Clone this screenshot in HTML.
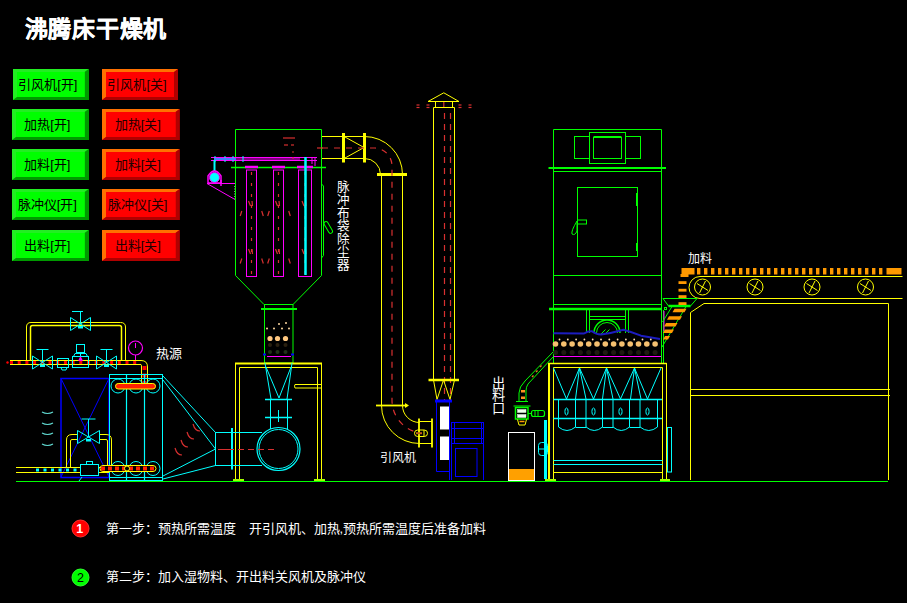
<!DOCTYPE html>
<html lang="zh-CN">
<head>
<meta charset="utf-8">
<style>
html,body{margin:0;padding:0;background:#000;}
body{width:907px;height:603px;overflow:hidden;position:relative;}
svg{position:absolute;left:0;top:0;font-family:"Liberation Sans",sans-serif;}
</style>
</head>
<body>
<svg width="907" height="603" viewBox="0 0 907 603">
<rect x="0" y="0" width="907" height="603" fill="#000"/>
<text x="24.5" y="37.3" fill="#ffffff" font-size="23" font-weight="bold" letter-spacing="0.8" stroke="#fff" stroke-width="0.25">沸腾床干燥机</text>
<rect x="13" y="69" width="75.6" height="31" fill="#00ff00" />
<polygon points="13,69 88.6,69 84.6,72 17,72 17,97 13,100" fill="#22ee22"/>
<polygon points="88.6,69 88.6,100 13,100 17,97 84.6,97 84.6,72" fill="#009a00"/>
<rect x="17" y="72" width="67.6" height="25" fill="#00ff00" />
<text x="47.8" y="89.3" fill="#000" font-size="13" text-anchor="middle">引风机[开]</text>
<rect x="102" y="69" width="76" height="31" fill="#ff0000" />
<polygon points="102,69 178,69 174,72 106,72 106,97 102,100" fill="#ff7000"/>
<polygon points="178,69 178,100 102,100 106,97 174,97 174,72" fill="#b00000"/>
<rect x="106" y="72" width="68" height="25" fill="#ff0000" />
<text x="137.0" y="89.3" fill="#200000" font-size="13" text-anchor="middle">引风机[关]</text>
<rect x="12" y="109" width="76.6" height="31" fill="#00ff00" />
<polygon points="12,109 88.6,109 84.6,112 16,112 16,137 12,140" fill="#22ee22"/>
<polygon points="88.6,109 88.6,140 12,140 16,137 84.6,137 84.6,112" fill="#009a00"/>
<rect x="16" y="112" width="68.6" height="25" fill="#00ff00" />
<text x="47.3" y="129.3" fill="#000" font-size="13" text-anchor="middle">加热[开]</text>
<rect x="102" y="109" width="77.5" height="31" fill="#ff0000" />
<polygon points="102,109 179.5,109 175.5,112 106,112 106,137 102,140" fill="#ff7000"/>
<polygon points="179.5,109 179.5,140 102,140 106,137 175.5,137 175.5,112" fill="#b00000"/>
<rect x="106" y="112" width="69.5" height="25" fill="#ff0000" />
<text x="137.75" y="129.3" fill="#200000" font-size="13" text-anchor="middle">加热[关]</text>
<rect x="12" y="149" width="76.6" height="31" fill="#00ff00" />
<polygon points="12,149 88.6,149 84.6,152 16,152 16,177 12,180" fill="#22ee22"/>
<polygon points="88.6,149 88.6,180 12,180 16,177 84.6,177 84.6,152" fill="#009a00"/>
<rect x="16" y="152" width="68.6" height="25" fill="#00ff00" />
<text x="47.3" y="169.3" fill="#000" font-size="13" text-anchor="middle">加料[开]</text>
<rect x="102" y="149" width="77.5" height="31" fill="#ff0000" />
<polygon points="102,149 179.5,149 175.5,152 106,152 106,177 102,180" fill="#ff7000"/>
<polygon points="179.5,149 179.5,180 102,180 106,177 175.5,177 175.5,152" fill="#b00000"/>
<rect x="106" y="152" width="69.5" height="25" fill="#ff0000" />
<text x="137.75" y="169.3" fill="#200000" font-size="13" text-anchor="middle">加料[关]</text>
<rect x="12" y="189" width="76.6" height="31" fill="#00ff00" />
<polygon points="12,189 88.6,189 84.6,192 16,192 16,217 12,220" fill="#22ee22"/>
<polygon points="88.6,189 88.6,220 12,220 16,217 84.6,217 84.6,192" fill="#009a00"/>
<rect x="16" y="192" width="68.6" height="25" fill="#00ff00" />
<text x="47.3" y="209.3" fill="#000" font-size="13" text-anchor="middle">脉冲仪[开]</text>
<rect x="102" y="189" width="77.5" height="31" fill="#ff0000" />
<polygon points="102,189 179.5,189 175.5,192 106,192 106,217 102,220" fill="#ff7000"/>
<polygon points="179.5,189 179.5,220 102,220 106,217 175.5,217 175.5,192" fill="#b00000"/>
<rect x="106" y="192" width="69.5" height="25" fill="#ff0000" />
<text x="137.75" y="209.3" fill="#200000" font-size="13" text-anchor="middle">脉冲仪[关]</text>
<rect x="12" y="230" width="76.6" height="31" fill="#00ff00" />
<polygon points="12,230 88.6,230 84.6,233 16,233 16,258 12,261" fill="#22ee22"/>
<polygon points="88.6,230 88.6,261 12,261 16,258 84.6,258 84.6,233" fill="#009a00"/>
<rect x="16" y="233" width="68.6" height="25" fill="#00ff00" />
<text x="47.3" y="250.3" fill="#000" font-size="13" text-anchor="middle">出料[开]</text>
<rect x="102" y="230" width="77.5" height="31" fill="#ff0000" />
<polygon points="102,230 179.5,230 175.5,233 106,233 106,258 102,261" fill="#ff7000"/>
<polygon points="179.5,230 179.5,261 102,261 106,258 175.5,258 175.5,233" fill="#b00000"/>
<rect x="106" y="233" width="69.5" height="25" fill="#ff0000" />
<text x="137.75" y="250.3" fill="#200000" font-size="13" text-anchor="middle">出料[关]</text>
<line x1="16" y1="481.5" x2="888" y2="481.5" stroke="#00ff00" stroke-width="1" />
<circle cx="80.5" cy="528.5" r="8.5" stroke="#ff3030" stroke-width="1" fill="#ff0000" />
<text x="79.8" y="532.8" fill="#ffffff" font-size="12.5" font-weight="bold" text-anchor="middle">1</text>
<text x="105.5" y="533" fill="#ffffff" font-size="13" >第一步：预热所需温度　开引风机、加热,预热所需温度后准备加料</text>
<circle cx="80.5" cy="577.5" r="8.5" stroke="#30ff30" stroke-width="1" fill="#00ff00" />
<text x="80.5" y="581.8" fill="#000" font-size="12.5" text-anchor="middle">2</text>
<text x="105.5" y="581.3" fill="#ffffff" font-size="13" >第二步：加入湿物料、开出料关风机及脉冲仪</text>
<g id="leftpipe">
<path d="M26.5,360 L26.5,327 Q26.5,322.5 31,322.5 L120.5,322.5 Q125.5,322.5 125.5,327 L125.5,360" stroke="#ffff00" stroke-width="1" fill="none" />
<path d="M30.5,360 L30.5,327.5 Q30.5,325.5 32.5,325.5 L119.5,325.5 Q121.5,325.5 121.5,327.5 L121.5,360" stroke="#ffff00" stroke-width="1.5" fill="none" />
<line x1="10" y1="360.5" x2="141" y2="360.5" stroke="#ffff00" stroke-width="1" />
<line x1="10" y1="364.5" x2="141" y2="364.5" stroke="#ffff00" stroke-width="1" />
<line x1="10" y1="362.5" x2="141" y2="362.5" stroke="#ff0000" stroke-width="3" stroke-dasharray="3 4.7"/>
<circle cx="7.5" cy="362.5" r="1.2" stroke="none" stroke-width="0" fill="#ff0000" />
<path d="M141,360.5 Q147.5,360.5 147.5,367 L147.5,383" stroke="#ffff00" stroke-width="1" fill="none" />
<path d="M141,364.5 Q141.5,364.5 141.5,367 L141.5,383" stroke="#ffff00" stroke-width="1" fill="none" />
<line x1="144.5" y1="366" x2="144.5" y2="384" stroke="#ff0000" stroke-width="4" stroke-dasharray="4 3.5"/>
<path d="M70.5,317.5 L90.5,330.5 L90.5,317.5 L70.5,330.5 Z" stroke="#00ffff" stroke-width="1" fill="none"/>
<line x1="80.5" y1="324" x2="80.5" y2="311.5" stroke="#00ffff" stroke-width="1" />
<line x1="80.5" y1="311.5" x2="80.5" y2="311.5" stroke="#00ffff" stroke-width="1" />
<rect x="78.0" y="326" width="5" height="2.5" fill="#00ffff"/>
<line x1="72" y1="311.5" x2="83" y2="311.5" stroke="#00ffff" stroke-width="1" />
<path d="M32.5,356.0 L52.5,369.0 L52.5,356.0 L32.5,369.0 Z" stroke="#00ffff" stroke-width="1" fill="none"/>
<line x1="42.5" y1="362.5" x2="42.5" y2="349.5" stroke="#00ffff" stroke-width="1" />
<line x1="36.5" y1="349.5" x2="48.5" y2="349.5" stroke="#00ffff" stroke-width="1" />
<rect x="40.0" y="364.5" width="5" height="2.5" fill="#00ffff"/>
<path d="M96.5,356.0 L116.5,369.0 L116.5,356.0 L96.5,369.0 Z" stroke="#00ffff" stroke-width="1" fill="none"/>
<line x1="106.5" y1="362.5" x2="106.5" y2="349.5" stroke="#00ffff" stroke-width="1" />
<line x1="100.5" y1="349.5" x2="112.5" y2="349.5" stroke="#00ffff" stroke-width="1" />
<rect x="104.0" y="364.5" width="5" height="2.5" fill="#00ffff"/>
<rect x="57.5" y="358.5" width="11" height="9" stroke="#00ffff" stroke-width="1" fill="none" />
<path d="M61,367.5 L62,370 L66,370 L67,367.5" stroke="#00ffff" stroke-width="1" fill="none" />
<rect x="72.5" y="356.5" width="16" height="11" stroke="#00ffff" stroke-width="1" fill="none" />
<path d="M73.5,356.5 L75,353.5 L86,353.5 L87.5,356.5" stroke="#00ffff" stroke-width="1" fill="none" />
<rect x="76.5" y="344.5" width="8" height="8" stroke="#00ffff" stroke-width="1" fill="#000" />
<line x1="80.5" y1="352.5" x2="80.5" y2="356.5" stroke="#00ffff" stroke-width="1" />
<polygon points="78,361 83,361 80.5,356" fill="#ff00ff"/>
<circle cx="135.5" cy="348" r="7" stroke="#ff00ff" stroke-width="1.2" fill="none" />
<line x1="135.5" y1="348" x2="135.5" y2="343" stroke="#ff00ff" stroke-width="1" />
<line x1="135.5" y1="355" x2="135.5" y2="360" stroke="#ff00ff" stroke-width="1" />
<text x="156" y="358" fill="#ffffff" font-size="13" >热源</text>
<rect x="61" y="378.5" width="48" height="99" stroke="#0000ff" stroke-width="1.5" fill="none" />
<line x1="61" y1="378.5" x2="109" y2="477" stroke="#0000ff" stroke-width="1" />
<line x1="109" y1="378.5" x2="61" y2="477" stroke="#0000ff" stroke-width="1" />
<path d="M42,412 Q47.5,415 53,412" stroke="#60d8d0" stroke-width="1.2" fill="none" />
<path d="M42,423 Q47.5,426 53,423" stroke="#60d8d0" stroke-width="1.2" fill="none" />
<path d="M42,433 Q47.5,436 53,433" stroke="#60d8d0" stroke-width="1.2" fill="none" />
<path d="M42,444 Q47.5,447 53,444" stroke="#60d8d0" stroke-width="1.2" fill="none" />
<line x1="16" y1="467.5" x2="110" y2="467.5" stroke="#ffff00" stroke-width="1" />
<line x1="16" y1="472.5" x2="110" y2="472.5" stroke="#ffff00" stroke-width="1" />
<line x1="36" y1="470" x2="80" y2="470" stroke="#00ffff" stroke-width="3" stroke-dasharray="3 4.5"/>
<path d="M66.5,467 L66.5,440 Q66.5,434.5 72,434.5 L78,434.5" stroke="#ffff00" stroke-width="1" fill="none" />
<path d="M70.5,467 L70.5,441 Q70.5,439.5 72,439.5 L78,439.5" stroke="#ffff00" stroke-width="1" fill="none" />
<path d="M111.5,467 L111.5,440 Q111.5,434.5 106,434.5 L99,434.5" stroke="#ffff00" stroke-width="1" fill="none" />
<path d="M107.5,467 L107.5,441 Q107.5,439.5 106,439.5 L99,439.5" stroke="#ffff00" stroke-width="1" fill="none" />
<path d="M77.5,430.5 L99.5,443.5 L99.5,430.5 L77.5,443.5 Z" stroke="#00ffff" stroke-width="1" fill="none"/>
<line x1="88.5" y1="437" x2="88.5" y2="419" stroke="#00ffff" stroke-width="1" />
<line x1="81.5" y1="419" x2="95.5" y2="419" stroke="#00ffff" stroke-width="1" />
<rect x="86.0" y="439" width="5" height="2.5" fill="#00ffff"/>
<rect x="80.5" y="464.5" width="18" height="11" stroke="#00ffff" stroke-width="1" fill="#000" />
<rect x="86.5" y="461.5" width="6" height="3" stroke="#00ffff" stroke-width="1" fill="#000" />
<path d="M82,477 L79,481" stroke="#00ffff" stroke-width="1" fill="none" />
<rect x="109.5" y="374.5" width="53" height="106" stroke="#00ffff" stroke-width="1" fill="none" />
<line x1="109.5" y1="378.5" x2="162.5" y2="378.5" stroke="#00ffff" stroke-width="1" />
<line x1="109.5" y1="477.5" x2="162.5" y2="477.5" stroke="#00ffff" stroke-width="1" />
<line x1="126.5" y1="374.5" x2="126.5" y2="480" stroke="#00ffff" stroke-width="1.2" />
<line x1="144.5" y1="374.5" x2="144.5" y2="480" stroke="#00ffff" stroke-width="1.2" />
<circle cx="118" cy="386" r="7" stroke="#00ffff" stroke-width="1" fill="none" />
<circle cx="118" cy="468.5" r="7" stroke="#00ffff" stroke-width="1" fill="none" />
<circle cx="136" cy="386" r="7" stroke="#00ffff" stroke-width="1" fill="none" />
<circle cx="136" cy="468.5" r="7" stroke="#00ffff" stroke-width="1" fill="none" />
<circle cx="153" cy="386" r="7" stroke="#00ffff" stroke-width="1" fill="none" />
<circle cx="153" cy="468.5" r="7" stroke="#00ffff" stroke-width="1" fill="none" />
<rect x="115.5" y="383.5" width="40" height="5.5" rx="2.7" fill="#ff2000" stroke="#ffff00" stroke-width="1"/>
<rect x="100" y="465.5" width="56" height="6" rx="3" fill="#000" stroke="#ffff00" stroke-width="1"/>
<line x1="101" y1="468.5" x2="155" y2="468.5" stroke="#ff2000" stroke-width="4" stroke-dasharray="4 3"/>
<circle cx="127" cy="468.5" r="2.5" stroke="#ffff00" stroke-width="1" fill="#000" />
<line x1="163" y1="376" x2="215.5" y2="432.5" stroke="#00ffff" stroke-width="1" />
<line x1="163" y1="380" x2="215.5" y2="449" stroke="#00ffff" stroke-width="1" />
<line x1="163" y1="476" x2="215.5" y2="449" stroke="#00ffff" stroke-width="1" />
<line x1="163" y1="479" x2="215.5" y2="465.5" stroke="#00ffff" stroke-width="1" />
<rect x="215.5" y="432.5" width="16" height="33" stroke="#00ffff" stroke-width="1" fill="none" />
<line x1="232" y1="428" x2="232" y2="469.5" stroke="#00ffff" stroke-width="2" />
<line x1="222" y1="449.5" x2="228" y2="449.5" stroke="#d83030" stroke-width="1" />
<path d="M175,448 Q177,455 182,455" stroke="#d83030" stroke-width="1.2" fill="none" />
<path d="M181,440 Q183,447 188,447" stroke="#d83030" stroke-width="1.2" fill="none" />
<path d="M187,432 Q189,439 194,439" stroke="#d83030" stroke-width="1.2" fill="none" />
<path d="M193,424 Q195,431 200,431" stroke="#d83030" stroke-width="1.2" fill="none" />
</g>
<g id="baghouse">
<path d="M235.5,129.5 L321.5,129.5 L321.5,275.5 L293,304.5 L264,304.5 L235.5,275.5 Z" stroke="#00ff00" stroke-width="1" fill="none" />
<line x1="231" y1="167.5" x2="326" y2="167.5" stroke="#00ff00" stroke-width="1.5" />
<line x1="211" y1="157.5" x2="317" y2="157.5" stroke="#ff00ff" stroke-width="1" />
<line x1="211" y1="160.5" x2="317" y2="160.5" stroke="#ff00ff" stroke-width="1" />
<line x1="228" y1="159" x2="300" y2="159" stroke="#ff00ff" stroke-width="1" />
<line x1="215" y1="156" x2="215" y2="162" stroke="#00ffff" stroke-width="1" />
<line x1="225" y1="156" x2="225" y2="162" stroke="#00ffff" stroke-width="1" />
<line x1="233" y1="156" x2="233" y2="162" stroke="#00ffff" stroke-width="1" />
<line x1="243" y1="156" x2="243" y2="162" stroke="#00ffff" stroke-width="1" />
<line x1="214" y1="159" x2="236" y2="159" stroke="#4080ff" stroke-width="2" />
<line x1="312" y1="157" x2="312" y2="164" stroke="#ff00ff" stroke-width="1" />
<line x1="315" y1="157" x2="315" y2="166" stroke="#ff00ff" stroke-width="1" />
<rect x="246.5" y="170" width="10.0" height="106.5" stroke="#ff00ff" stroke-width="1" fill="none" />
<line x1="245.0" y1="167" x2="258.0" y2="167" stroke="#ff00ff" stroke-width="2.5" />
<line x1="251.5" y1="172" x2="251.5" y2="276" stroke="#d83030" stroke-width="1.2" stroke-dasharray="3 8"/>
<line x1="250.5" y1="206" x2="248.5" y2="201" stroke="#d83030" stroke-width="1.2" />
<line x1="252.5" y1="206" x2="252.0" y2="201" stroke="#d83030" stroke-width="1.2" />
<line x1="250.5" y1="254" x2="248.5" y2="249" stroke="#d83030" stroke-width="1.2" />
<line x1="252.5" y1="254" x2="252.0" y2="249" stroke="#d83030" stroke-width="1.2" />
<rect x="273.5" y="170" width="10.0" height="106.5" stroke="#ff00ff" stroke-width="1" fill="none" />
<line x1="272.0" y1="167" x2="285.0" y2="167" stroke="#ff00ff" stroke-width="2.5" />
<line x1="278.5" y1="172" x2="278.5" y2="276" stroke="#d83030" stroke-width="1.2" stroke-dasharray="3 8"/>
<line x1="277.5" y1="206" x2="275.5" y2="201" stroke="#d83030" stroke-width="1.2" />
<line x1="279.5" y1="206" x2="279.0" y2="201" stroke="#d83030" stroke-width="1.2" />
<line x1="277.5" y1="254" x2="275.5" y2="249" stroke="#d83030" stroke-width="1.2" />
<line x1="279.5" y1="254" x2="279.0" y2="249" stroke="#d83030" stroke-width="1.2" />
<rect x="298.5" y="170" width="13.0" height="106.5" stroke="#ff00ff" stroke-width="1" fill="none" />
<line x1="297.0" y1="167" x2="313.0" y2="167" stroke="#ff00ff" stroke-width="2.5" />
<line x1="305.0" y1="172" x2="305.0" y2="276" stroke="#d83030" stroke-width="1.2" stroke-dasharray="3 8"/>
<line x1="304.0" y1="206" x2="302.0" y2="201" stroke="#d83030" stroke-width="1.2" />
<line x1="306.0" y1="206" x2="305.5" y2="201" stroke="#d83030" stroke-width="1.2" />
<line x1="304.0" y1="254" x2="302.0" y2="249" stroke="#d83030" stroke-width="1.2" />
<line x1="306.0" y1="254" x2="305.5" y2="249" stroke="#d83030" stroke-width="1.2" />
<line x1="305.5" y1="157" x2="305.5" y2="275" stroke="#00ffff" stroke-width="2.5" />
<line x1="214.5" y1="160" x2="214.5" y2="171" stroke="#00ffff" stroke-width="2" />
<path d="M208,176 Q214.5,166 221,176 L221,183 L208,183 Z" stroke="#ff00ff" stroke-width="1.5" fill="#000"/>
<circle cx="214.5" cy="177.5" r="5" stroke="#ff00ff" stroke-width="1" fill="#00ffff" />
<line x1="207" y1="183.5" x2="235" y2="183.5" stroke="#ff00ff" stroke-width="1" />
<line x1="207" y1="183.5" x2="235" y2="199.5" stroke="#ff00ff" stroke-width="1" />
<line x1="221" y1="180" x2="221" y2="186" stroke="#ff00ff" stroke-width="1.5" />
<line x1="234.5" y1="186" x2="234.5" y2="199" stroke="#808080" stroke-width="1" stroke-dasharray="1 1.5"/>
<line x1="283" y1="138" x2="295" y2="138" stroke="#d83030" stroke-width="1.2" />
<line x1="284" y1="145" x2="288" y2="145" stroke="#d83030" stroke-width="1.2" />
<line x1="291" y1="145" x2="294" y2="145" stroke="#d83030" stroke-width="1.2" />
<line x1="292" y1="152" x2="294" y2="152" stroke="#d83030" stroke-width="1.2" />
<line x1="292" y1="158" x2="294" y2="158" stroke="#d83030" stroke-width="1.2" />
<line x1="317" y1="148" x2="323" y2="148" stroke="#d83030" stroke-width="1.2" />
<line x1="241.8" y1="211" x2="240.2" y2="216" stroke="#d83030" stroke-width="1.2" />
<line x1="261.7" y1="211" x2="263.3" y2="216" stroke="#d83030" stroke-width="1.2" />
<line x1="269.3" y1="211" x2="267.7" y2="216" stroke="#d83030" stroke-width="1.2" />
<line x1="288.7" y1="211" x2="290.3" y2="216" stroke="#d83030" stroke-width="1.2" />
<line x1="241.8" y1="258.5" x2="240.2" y2="263.5" stroke="#d83030" stroke-width="1.2" />
<line x1="261.7" y1="258.5" x2="263.3" y2="263.5" stroke="#d83030" stroke-width="1.2" />
<line x1="269.3" y1="258.5" x2="267.7" y2="263.5" stroke="#d83030" stroke-width="1.2" />
<line x1="288.7" y1="258.5" x2="290.3" y2="263.5" stroke="#d83030" stroke-width="1.2" />
<path d="M321.5,184 L323.5,186 L323.5,255.5 L321.5,258" stroke="#00ff00" stroke-width="1" fill="none" />
<rect x="326" y="221" width="4" height="13" rx="2" transform="rotate(-30 328 227)" stroke="#00ff00" stroke-width="1" fill="none"/>
<rect x="264.5" y="304.5" width="28.5" height="58.5" stroke="#00ff00" stroke-width="1" fill="none" />
<line x1="261" y1="309" x2="297" y2="309" stroke="#00ff00" stroke-width="2" />
<circle cx="279" cy="324" r="1" stroke="none" stroke-width="0" fill="#ffd9a0" />
<circle cx="286" cy="323" r="1" stroke="none" stroke-width="0" fill="#ffd9a0" />
<circle cx="267" cy="328.5" r="1" stroke="none" stroke-width="0" fill="#ffd9a0" />
<circle cx="274" cy="328.5" r="1" stroke="none" stroke-width="0" fill="#ffd9a0" />
<circle cx="282" cy="328.5" r="1" stroke="none" stroke-width="0" fill="#ffd9a0" />
<circle cx="289" cy="328.5" r="1" stroke="none" stroke-width="0" fill="#ffd9a0" />
<circle cx="270" cy="338.5" r="2.6" fill="#ffc880"/>
<circle cx="277.5" cy="338.5" r="2.6" fill="#ffc880"/>
<circle cx="285.5" cy="338.5" r="2.6" fill="#ffc880"/>
<circle cx="270" cy="345" r="2" fill="#2a2010"/>
<circle cx="270" cy="352" r="2" fill="#203018"/>
<circle cx="277.5" cy="345" r="2" fill="#2a2010"/>
<circle cx="277.5" cy="352" r="2" fill="#203018"/>
<circle cx="285.5" cy="345" r="2" fill="#2a2010"/>
<circle cx="285.5" cy="352" r="2" fill="#203018"/>
<line x1="263" y1="354.5" x2="266" y2="354.5" stroke="#0000ff" stroke-width="2" />
<line x1="291" y1="354.5" x2="294" y2="354.5" stroke="#0000ff" stroke-width="2" />
<line x1="267" y1="356.5" x2="291" y2="356.5" stroke="#ff00ff" stroke-width="1" />
<line x1="235" y1="363.5" x2="322" y2="363.5" stroke="#ffff00" stroke-width="2" />
<line x1="235.5" y1="363" x2="235.5" y2="480" stroke="#ffff00" stroke-width="1" />
<line x1="239.5" y1="367.5" x2="239.5" y2="480" stroke="#ffff00" stroke-width="1" />
<line x1="321.5" y1="363" x2="321.5" y2="480" stroke="#ffff00" stroke-width="1" />
<line x1="317.5" y1="367.5" x2="317.5" y2="480" stroke="#ffff00" stroke-width="1" />
<line x1="239.5" y1="367.5" x2="317.5" y2="367.5" stroke="#ffff00" stroke-width="1" />
<path d="M321.5,384.5 L295,384.5 Q294,386 295,388 L321.5,388" stroke="#ffff00" stroke-width="1" fill="none" />
<line x1="233" y1="480" x2="244" y2="480" stroke="#a0ff00" stroke-width="2" />
<line x1="314" y1="480" x2="325" y2="480" stroke="#a0ff00" stroke-width="2" />
<line x1="265" y1="363" x2="271" y2="399" stroke="#00ffff" stroke-width="1" />
<line x1="292" y1="363" x2="287" y2="399" stroke="#00ffff" stroke-width="1" />
<line x1="266" y1="367" x2="279" y2="398" stroke="#00ffff" stroke-width="1" />
<line x1="291" y1="367" x2="279" y2="398" stroke="#00ffff" stroke-width="1" />
<line x1="265" y1="399.5" x2="292" y2="399.5" stroke="#00ffff" stroke-width="1.5" />
<line x1="270.5" y1="399" x2="270.5" y2="429" stroke="#00ffff" stroke-width="1" />
<line x1="287.5" y1="399" x2="287.5" y2="429" stroke="#00ffff" stroke-width="1" />
<line x1="265" y1="417.5" x2="292" y2="417.5" stroke="#00ffff" stroke-width="1.5" />
<line x1="278.5" y1="410" x2="278.5" y2="422" stroke="#00ffff" stroke-width="1" />
<circle cx="278.5" cy="449" r="21.5" stroke="#00ffff" stroke-width="1.2" fill="none" />
<circle cx="278.5" cy="449" r="19.5" stroke="#00ffff" stroke-width="1" fill="none" />
<line x1="232" y1="432.5" x2="262" y2="432.5" stroke="#00ffff" stroke-width="1" />
<line x1="232" y1="465.5" x2="262" y2="465.5" stroke="#00ffff" stroke-width="1" />
<line x1="218" y1="449.5" x2="275" y2="449.5" stroke="#d83030" stroke-width="1" stroke-dasharray="6 4"/>
</g>
<g id="duct">
<line x1="322" y1="136.5" x2="343.5" y2="136.5" stroke="#ffff00" stroke-width="1" />
<line x1="322" y1="158.5" x2="343.5" y2="158.5" stroke="#ffff00" stroke-width="1" />
<line x1="343.5" y1="136.5" x2="364.5" y2="136.5" stroke="#ffff00" stroke-width="1" />
<line x1="343.5" y1="158.5" x2="364.5" y2="158.5" stroke="#ffff00" stroke-width="1" />
<line x1="343.5" y1="133" x2="343.5" y2="162.5" stroke="#ffff00" stroke-width="3" />
<line x1="364.5" y1="133" x2="364.5" y2="162.5" stroke="#ffff00" stroke-width="3" />
<line x1="345" y1="137" x2="364" y2="147.5" stroke="#ffff00" stroke-width="1" />
<line x1="345" y1="158" x2="364" y2="147.5" stroke="#ffff00" stroke-width="1" />
<path d="M364.5,136.5 A38,38 0 0 1 402.5,174.5" stroke="#ffff00" stroke-width="1" fill="none" />
<path d="M364.5,158.5 A16,16 0 0 1 380.5,174.5" stroke="#ffff00" stroke-width="1" fill="none" />
<line x1="377" y1="174.5" x2="407" y2="174.5" stroke="#ffff00" stroke-width="3" />
<line x1="381.5" y1="174.5" x2="381.5" y2="405.5" stroke="#ffff00" stroke-width="1" />
<line x1="402.5" y1="174.5" x2="402.5" y2="405.5" stroke="#ffff00" stroke-width="1" />
<line x1="376" y1="405.5" x2="407" y2="405.5" stroke="#ffff00" stroke-width="1.8" />
<polygon points="405,403 409,405.5 405,408" fill="#ffff00"/>
<path d="M381.5,405.5 A38,38 0 0 0 419.5,443.5" stroke="#ffff00" stroke-width="1" fill="none" />
<path d="M402.5,405.5 A17,17 0 0 0 419.5,422.5" stroke="#ffff00" stroke-width="1" fill="none" />
<line x1="419" y1="418.5" x2="419" y2="447.5" stroke="#ffff00" stroke-width="1.8" />
<line x1="432" y1="418.5" x2="432" y2="447.5" stroke="#ffff00" stroke-width="1.8" />
<line x1="419" y1="421.5" x2="432" y2="421.5" stroke="#ffff00" stroke-width="1" />
<line x1="419" y1="443.5" x2="432" y2="443.5" stroke="#ffff00" stroke-width="1" />
<rect x="414.5" y="430" width="13" height="6.5" rx="3.2" stroke="#ffff00" stroke-width="1" fill="none"/>
<line x1="424" y1="430" x2="424" y2="436.5" stroke="#ffff00" stroke-width="1" />
<line x1="416" y1="433.2" x2="422" y2="433.2" stroke="#c06018" stroke-width="2" />
<path d="M322,148 L375,148 A18,18 0 0 1 392,166 L392,400 A33,33 0 0 0 416,432" stroke="#d83030" stroke-width="1.2" fill="none" stroke-dasharray="6 6"/>
</g>
<g id="stack">
<path d="M428,101.5 L443.8,92.8 L459,101.5 Z" stroke="#ffff00" stroke-width="1" fill="none" />
<rect x="435.5" y="101.5" width="17" height="6" stroke="#ffff00" stroke-width="1" fill="none" />
<line x1="433.5" y1="107.5" x2="454.5" y2="107.5" stroke="#ffff00" stroke-width="1" />
<line x1="433.5" y1="107.5" x2="433.5" y2="380" stroke="#ffff00" stroke-width="1" />
<line x1="454.5" y1="107.5" x2="454.5" y2="380" stroke="#ffff00" stroke-width="1" />
<line x1="444.5" y1="113" x2="444.5" y2="400" stroke="#d83030" stroke-width="1.2" stroke-dasharray="6 5"/>
<line x1="450.5" y1="113" x2="450.5" y2="400" stroke="#d83030" stroke-width="1.2" stroke-dasharray="6 5"/>
<line x1="443.8" y1="102" x2="443.8" y2="107" stroke="#d83030" stroke-width="1.2" />
<line x1="416.5" y1="105" x2="419.5" y2="105" stroke="#d83030" stroke-width="1.2" />
<line x1="416.5" y1="107.5" x2="419.5" y2="107.5" stroke="#d83030" stroke-width="1.2" />
<line x1="426.5" y1="105" x2="429.5" y2="105" stroke="#d83030" stroke-width="1.2" />
<line x1="426.5" y1="107.5" x2="429.5" y2="107.5" stroke="#d83030" stroke-width="1.2" />
<line x1="458.5" y1="105" x2="461.5" y2="105" stroke="#d83030" stroke-width="1.2" />
<line x1="458.5" y1="107.5" x2="461.5" y2="107.5" stroke="#d83030" stroke-width="1.2" />
<line x1="468.5" y1="105" x2="471.5" y2="105" stroke="#d83030" stroke-width="1.2" />
<line x1="468.5" y1="107.5" x2="471.5" y2="107.5" stroke="#d83030" stroke-width="1.2" />
<line x1="428.5" y1="380" x2="459" y2="380" stroke="#ffff00" stroke-width="2.5" />
<path d="M433.5,380 L437,399.5 L443.5,380 L450,399.5 L454.5,380" stroke="#ffff00" stroke-width="1" fill="none" />
<line x1="436.5" y1="401" x2="436.5" y2="471.5" stroke="#0000ff" stroke-width="1" />
<line x1="449.5" y1="401" x2="449.5" y2="480" stroke="#0000ff" stroke-width="1" />
<line x1="436.5" y1="471.5" x2="449.5" y2="471.5" stroke="#0000ff" stroke-width="1" />
<line x1="435" y1="401" x2="452" y2="401" stroke="#0000ff" stroke-width="3" />
<rect x="440" y="406.5" width="9" height="23" fill="#ffffff" />
<rect x="440" y="436.5" width="9" height="23.5" fill="#ffffff" />
<rect x="451.5" y="422.5" width="32" height="21" stroke="#0000ff" stroke-width="1" fill="none" />
<line x1="451.5" y1="428.5" x2="483.5" y2="428.5" stroke="#0000ff" stroke-width="1" />
<line x1="451.5" y1="438.5" x2="483.5" y2="438.5" stroke="#0000ff" stroke-width="1" />
<line x1="454.5" y1="422.5" x2="454.5" y2="443.5" stroke="#0000ff" stroke-width="1" />
<line x1="481.5" y1="422.5" x2="481.5" y2="443.5" stroke="#0000ff" stroke-width="1" />
<line x1="451.5" y1="443.5" x2="451.5" y2="480" stroke="#0000ff" stroke-width="1" />
<line x1="483.5" y1="443.5" x2="483.5" y2="480" stroke="#0000ff" stroke-width="1" />
<rect x="455.5" y="448.5" width="21.5" height="28" stroke="#0000ff" stroke-width="1" fill="none" />
<text x="380" y="462" fill="#ffffff" font-size="12" >引风机</text>
</g>
<g id="dryer">
<line x1="553.5" y1="129.5" x2="553.5" y2="363" stroke="#00ff00" stroke-width="1" />
<line x1="661.5" y1="129.5" x2="661.5" y2="363" stroke="#00ff00" stroke-width="1" />
<line x1="553.5" y1="129.5" x2="661.5" y2="129.5" stroke="#00ff00" stroke-width="1" />
<line x1="548.5" y1="168" x2="666" y2="168" stroke="#00ff00" stroke-width="2" />
<line x1="553.5" y1="171.5" x2="661.5" y2="171.5" stroke="#00ff00" stroke-width="1" />
<rect x="574.5" y="136.5" width="15" height="22" stroke="#00ff00" stroke-width="1" fill="none" />
<rect x="625.5" y="136.5" width="15" height="22" stroke="#00ff00" stroke-width="1" fill="none" />
<rect x="589.5" y="132.5" width="36" height="31" stroke="#00ff00" stroke-width="1" fill="#000" />
<rect x="593.5" y="137.5" width="28" height="21" stroke="#00ff00" stroke-width="1" fill="none" />
<line x1="593.5" y1="137" x2="621.5" y2="137" stroke="#00ff00" stroke-width="2" />
<rect x="577.5" y="187.5" width="60" height="69" stroke="#00ff00" stroke-width="1" fill="none" />
<line x1="637" y1="193" x2="637" y2="206" stroke="#00ff00" stroke-width="2" />
<line x1="637" y1="243" x2="637" y2="251" stroke="#00ff00" stroke-width="2" />
<rect x="577.5" y="220" width="9" height="4" stroke="#00ff00" stroke-width="1" fill="none" />
<path d="M577,221 Q571,231 572,234 Q575,236 577,231 Z" stroke="#00ff00" stroke-width="1" fill="none" />
<line x1="553.5" y1="275.5" x2="661.5" y2="275.5" stroke="#00ff00" stroke-width="1" />
<line x1="553.5" y1="304.5" x2="661.5" y2="304.5" stroke="#00ff00" stroke-width="1" />
<line x1="549" y1="309" x2="661.5" y2="309" stroke="#00ff00" stroke-width="2.5" />
<line x1="586.5" y1="309" x2="586.5" y2="333" stroke="#00ff00" stroke-width="1" />
<line x1="589.5" y1="309" x2="589.5" y2="333" stroke="#00ff00" stroke-width="1" />
<line x1="625.5" y1="309" x2="625.5" y2="333" stroke="#00ff00" stroke-width="1" />
<line x1="628.5" y1="309" x2="628.5" y2="333" stroke="#00ff00" stroke-width="1" />
<line x1="589.5" y1="316.5" x2="625.5" y2="316.5" stroke="#00ff00" stroke-width="1" />
<line x1="589.5" y1="319.5" x2="625.5" y2="319.5" stroke="#00ff00" stroke-width="1" />
<path d="M594,333 A13,13 0 0 1 620,333" stroke="#00ff00" stroke-width="1.5" fill="none" />
<path d="M596.5,333 A10.5,10.5 0 0 1 617.5,333" stroke="#00ff00" stroke-width="1" fill="none" />
<line x1="600.5" y1="334.5" x2="605.5" y2="329.5" stroke="#00ff00" stroke-width="1" />
<line x1="604.5" y1="334.5" x2="609.5" y2="329.5" stroke="#00ff00" stroke-width="1" />
<path d="M553.5,333.2 L584,333.5 Q588,331 592,331.3 Q596,334.5 601,334.5 Q612,333 623.5,329.7 Q632,332 641,335.7 L660,338.9" stroke="#1c1cc0" stroke-width="2" fill="none" />
<circle cx="555.5" cy="344" r="2.8" fill="#f5c070"/>
<circle cx="555.5" cy="352.5" r="2.5" fill="#1e1a10"/>
<circle cx="563.8" cy="344" r="2.8" fill="#f5c070"/>
<circle cx="563.8" cy="352.5" r="2.5" fill="#1e1a10"/>
<circle cx="572.1" cy="344" r="2.8" fill="#f5c070"/>
<circle cx="572.1" cy="352.5" r="2.5" fill="#1e1a10"/>
<circle cx="580.4" cy="344" r="2.8" fill="#f5c070"/>
<circle cx="580.4" cy="352.5" r="2.5" fill="#1e1a10"/>
<circle cx="588.7" cy="344" r="2.8" fill="#f5c070"/>
<circle cx="588.7" cy="352.5" r="2.5" fill="#1e1a10"/>
<circle cx="597.0" cy="344" r="2.8" fill="#f5c070"/>
<circle cx="597.0" cy="352.5" r="2.5" fill="#1e1a10"/>
<circle cx="605.3" cy="344" r="2.8" fill="#f5c070"/>
<circle cx="605.3" cy="352.5" r="2.5" fill="#1e1a10"/>
<circle cx="613.6" cy="344" r="2.8" fill="#f5c070"/>
<circle cx="613.6" cy="352.5" r="2.5" fill="#1e1a10"/>
<circle cx="621.9" cy="344" r="2.8" fill="#f5c070"/>
<circle cx="621.9" cy="352.5" r="2.5" fill="#1e1a10"/>
<circle cx="630.2" cy="344" r="2.8" fill="#f5c070"/>
<circle cx="630.2" cy="352.5" r="2.5" fill="#1e1a10"/>
<circle cx="638.5" cy="344" r="2.8" fill="#f5c070"/>
<circle cx="638.5" cy="352.5" r="2.5" fill="#1e1a10"/>
<circle cx="646.8" cy="344" r="2.8" fill="#f5c070"/>
<circle cx="646.8" cy="352.5" r="2.5" fill="#1e1a10"/>
<circle cx="655.1" cy="344" r="2.8" fill="#f5c070"/>
<circle cx="655.1" cy="352.5" r="2.5" fill="#1e1a10"/>
<circle cx="559.5" cy="339.5" r="0.9" fill="#ffe0b0"/>
<circle cx="567.8" cy="339.5" r="0.9" fill="#ffe0b0"/>
<circle cx="576.1" cy="339.5" r="0.9" fill="#ffe0b0"/>
<circle cx="584.4" cy="339.5" r="0.9" fill="#ffe0b0"/>
<circle cx="592.7" cy="339.5" r="0.9" fill="#ffe0b0"/>
<circle cx="601.0" cy="339.5" r="0.9" fill="#ffe0b0"/>
<circle cx="609.3" cy="339.5" r="0.9" fill="#ffe0b0"/>
<circle cx="617.6" cy="339.5" r="0.9" fill="#ffe0b0"/>
<circle cx="625.9" cy="339.5" r="0.9" fill="#ffe0b0"/>
<circle cx="634.2" cy="339.5" r="0.9" fill="#ffe0b0"/>
<circle cx="642.5" cy="339.5" r="0.9" fill="#ffe0b0"/>
<circle cx="650.8" cy="339.5" r="0.9" fill="#ffe0b0"/>
<line x1="553.5" y1="356.5" x2="661.5" y2="356.5" stroke="#ff00ff" stroke-width="1.2" />
<line x1="661.5" y1="310" x2="661.5" y2="363" stroke="#00ff00" stroke-width="1" />
<line x1="663.5" y1="310" x2="663.5" y2="363" stroke="#00ff00" stroke-width="1" />
<line x1="664" y1="311" x2="664" y2="331" stroke="#ff00ff" stroke-width="1" />
<rect x="664.5" y="307.5" width="2" height="2" stroke="#00ff00" stroke-width="1" fill="none" />
<line x1="548" y1="363.5" x2="666.5" y2="363.5" stroke="#ffff00" stroke-width="1.5" />
<line x1="549" y1="363" x2="549" y2="480" stroke="#ffff00" stroke-width="2" />
<line x1="553.5" y1="367.5" x2="553.5" y2="480" stroke="#ffff00" stroke-width="1" />
<line x1="666.5" y1="363" x2="666.5" y2="480" stroke="#ffff00" stroke-width="1" />
<line x1="662.5" y1="367.5" x2="662.5" y2="480" stroke="#ffff00" stroke-width="1" />
<line x1="553.5" y1="367.5" x2="662.5" y2="367.5" stroke="#ffff00" stroke-width="1" />
<line x1="545" y1="480" x2="556" y2="480" stroke="#a0ff00" stroke-width="2" />
<line x1="660" y1="480" x2="670" y2="480" stroke="#a0ff00" stroke-width="2" />
<line x1="553.5" y1="368" x2="566.5" y2="399" stroke="#00ffff" stroke-width="1" />
<line x1="579.5" y1="368" x2="566.5" y2="399" stroke="#00ffff" stroke-width="1" />
<line x1="579.5" y1="368" x2="593.5" y2="399" stroke="#00ffff" stroke-width="1" />
<line x1="606.5" y1="368" x2="593.5" y2="399" stroke="#00ffff" stroke-width="1" />
<line x1="606.5" y1="368" x2="620.5" y2="399" stroke="#00ffff" stroke-width="1" />
<line x1="634.5" y1="368" x2="620.5" y2="399" stroke="#00ffff" stroke-width="1" />
<line x1="634.5" y1="368" x2="647.5" y2="399" stroke="#00ffff" stroke-width="1" />
<line x1="661" y1="368" x2="647.5" y2="399" stroke="#00ffff" stroke-width="1" />
<line x1="579.5" y1="368" x2="575.5" y2="399" stroke="#00ffff" stroke-width="1" />
<line x1="579.5" y1="368" x2="586.0" y2="399" stroke="#00ffff" stroke-width="1" />
<line x1="606.5" y1="368" x2="602.5" y2="399" stroke="#00ffff" stroke-width="1" />
<line x1="606.5" y1="368" x2="613.0" y2="399" stroke="#00ffff" stroke-width="1" />
<line x1="634.5" y1="368" x2="630.5" y2="399" stroke="#00ffff" stroke-width="1" />
<line x1="634.5" y1="368" x2="641.0" y2="399" stroke="#00ffff" stroke-width="1" />
<line x1="553.5" y1="399.5" x2="662" y2="399.5" stroke="#00ffff" stroke-width="1.5" />
<line x1="553.5" y1="418.5" x2="662" y2="418.5" stroke="#00ffff" stroke-width="1.5" />
<line x1="558.5" y1="399" x2="558.5" y2="427" stroke="#00ffff" stroke-width="1" />
<line x1="575.5" y1="399" x2="575.5" y2="427" stroke="#00ffff" stroke-width="1" />
<line x1="586" y1="399" x2="586" y2="427" stroke="#00ffff" stroke-width="1" />
<line x1="602.5" y1="399" x2="602.5" y2="427" stroke="#00ffff" stroke-width="1" />
<line x1="613" y1="399" x2="613" y2="427" stroke="#00ffff" stroke-width="1" />
<line x1="629.5" y1="399" x2="629.5" y2="427" stroke="#00ffff" stroke-width="1" />
<line x1="640" y1="399" x2="640" y2="427" stroke="#00ffff" stroke-width="1" />
<line x1="657.5" y1="399" x2="657.5" y2="427" stroke="#00ffff" stroke-width="1" />
<ellipse cx="566.5" cy="411.5" rx="1.6" ry="3.5" stroke="#00ffff" stroke-width="1" fill="none"/>
<ellipse cx="593.5" cy="411.5" rx="1.6" ry="3.5" stroke="#00ffff" stroke-width="1" fill="none"/>
<ellipse cx="620.5" cy="411.5" rx="1.6" ry="3.5" stroke="#00ffff" stroke-width="1" fill="none"/>
<ellipse cx="647.5" cy="411.5" rx="1.6" ry="3.5" stroke="#00ffff" stroke-width="1" fill="none"/>
<path d="M558.5,427 Q567.0,434 575.5,427" stroke="#00ffff" stroke-width="1" fill="none" />
<path d="M586,427 Q594.25,434 602.5,427" stroke="#00ffff" stroke-width="1" fill="none" />
<path d="M613,427 Q621.25,434 629.5,427" stroke="#00ffff" stroke-width="1" fill="none" />
<path d="M640,427 Q648.75,434 657.5,427" stroke="#00ffff" stroke-width="1" fill="none" />
<line x1="575.5" y1="427.5" x2="586" y2="427.5" stroke="#00ffff" stroke-width="1" />
<line x1="602.5" y1="427.5" x2="613" y2="427.5" stroke="#00ffff" stroke-width="1" />
<line x1="629.5" y1="427.5" x2="640" y2="427.5" stroke="#00ffff" stroke-width="1" />
<line x1="553.5" y1="460.5" x2="662.5" y2="460.5" stroke="#00ffff" stroke-width="1" />
<line x1="553.5" y1="464.5" x2="662.5" y2="464.5" stroke="#00ffff" stroke-width="1" />
<line x1="553.5" y1="472.5" x2="662.5" y2="472.5" stroke="#ffff00" stroke-width="1" />
<rect x="667.5" y="427.5" width="4" height="44.5" stroke="#00ffff" stroke-width="1" fill="none" />
</g>
<g id="discharge">
<path d="M553,352 L525,381 Q519,387 519,393 L519,401" stroke="#00ff00" stroke-width="1" fill="none" />
<path d="M553,357 L528,384 Q526,387 526,391 L526,401" stroke="#00ff00" stroke-width="1" fill="none" />
<line x1="540" y1="367" x2="541.5" y2="365.5" stroke="#e08020" stroke-width="1.5" />
<line x1="536" y1="372" x2="537.5" y2="370.5" stroke="#e08020" stroke-width="1.5" />
<line x1="532" y1="377" x2="533.5" y2="375.5" stroke="#e08020" stroke-width="1.5" />
<rect x="521" y="390" width="4" height="2.5" fill="#ff9020" />
<rect x="521" y="396.5" width="4" height="2.5" fill="#ff9020" />
<line x1="516" y1="401.5" x2="528" y2="401.5" stroke="#00ff00" stroke-width="1" />
<line x1="513.5" y1="406" x2="530.5" y2="406" stroke="#00ff00" stroke-width="1" />
<rect x="515.5" y="407.5" width="12.5" height="11.5" stroke="#00ff00" stroke-width="1.5" fill="none" />
<rect x="517.5" y="409.5" width="8.5" height="3" stroke="#e0ffe0" stroke-width="0.5" fill="#f0fff0" />
<rect x="517.5" y="414.5" width="8.5" height="3" stroke="#e0ffe0" stroke-width="0.5" fill="#f0fff0" />
<line x1="528" y1="413.5" x2="531.5" y2="413.5" stroke="#00ff00" stroke-width="1" />
<rect x="531.5" y="410.5" width="13" height="6" rx="2" stroke="#00ff00" stroke-width="1.2" fill="none"/>
<line x1="535" y1="410.5" x2="535" y2="416.5" stroke="#00ff00" stroke-width="1" />
<line x1="538" y1="410.5" x2="538" y2="416.5" stroke="#00ff00" stroke-width="1" />
<path d="M517.5,419.5 L519,425 L525,425 L526.5,419.5" stroke="#ffff00" stroke-width="1" fill="none" />
<line x1="519.5" y1="421.5" x2="524.5" y2="421.5" stroke="#ff9900" stroke-width="1.5" />
<rect x="508.5" y="432.5" width="26" height="48" stroke="#ffffff" stroke-width="1" fill="#000" />
<rect x="509" y="469" width="25" height="11" fill="#ffa000" />
<line x1="545.5" y1="420" x2="545.5" y2="479" stroke="#00ffff" stroke-width="3" />
<rect x="538.5" y="442.5" width="9" height="13" rx="3" stroke="#00ffff" stroke-width="1" fill="none"/>
<line x1="539" y1="449" x2="547" y2="449" stroke="#00ffff" stroke-width="1" />
</g>
<text x="498.5" y="387.5" fill="#ffffff" font-size="13.2" text-anchor="middle">出</text>
<text x="498.5" y="400" fill="#ffffff" font-size="13.2" text-anchor="middle">料</text>
<text x="498.5" y="412.5" fill="#ffffff" font-size="13.2" text-anchor="middle">口</text>
<text x="343.7" y="191.3" fill="#ffffff" font-size="12.6" text-anchor="middle">脉</text>
<text x="343.7" y="204.2" fill="#ffffff" font-size="12.6" text-anchor="middle">冲</text>
<text x="343.7" y="217.2" fill="#ffffff" font-size="12.6" text-anchor="middle">布</text>
<text x="343.7" y="230.2" fill="#ffffff" font-size="12.6" text-anchor="middle">袋</text>
<text x="343.7" y="243.1" fill="#ffffff" font-size="12.6" text-anchor="middle">除</text>
<text x="343.7" y="256.1" fill="#ffffff" font-size="12.6" text-anchor="middle">尘</text>
<text x="343.7" y="269.0" fill="#ffffff" font-size="12.6" text-anchor="middle">器</text>
<g id="conveyor">
<text x="688" y="263" fill="#ffffff" font-size="12" >加料</text>
<rect x="681.5" y="268" width="13" height="6.5" fill="#ff9900" />
<rect x="680.5" y="274" width="8" height="3" fill="#ff9900" />
<rect x="697" y="268" width="3.4" height="6.5" fill="#ff9900" />
<rect x="704" y="268" width="3.4" height="6.5" fill="#ff9900" />
<rect x="711" y="268" width="3.4" height="6.5" fill="#ff9900" />
<rect x="718" y="268" width="3.4" height="6.5" fill="#ff9900" />
<rect x="725" y="268" width="3.4" height="6.5" fill="#ff9900" />
<rect x="732" y="268" width="3.4" height="6.5" fill="#ff9900" />
<rect x="739" y="268" width="3.4" height="6.5" fill="#ff9900" />
<rect x="746" y="268" width="3.4" height="6.5" fill="#ff9900" />
<rect x="753" y="268" width="3.4" height="6.5" fill="#ff9900" />
<rect x="760" y="268" width="3.4" height="6.5" fill="#ff9900" />
<rect x="767" y="268" width="3.4" height="6.5" fill="#ff9900" />
<rect x="774" y="268" width="3.4" height="6.5" fill="#ff9900" />
<rect x="781" y="268" width="3.4" height="6.5" fill="#ff9900" />
<rect x="788" y="268" width="3.4" height="6.5" fill="#ff9900" />
<rect x="795" y="268" width="3.4" height="6.5" fill="#ff9900" />
<rect x="802" y="268" width="3.4" height="6.5" fill="#ff9900" />
<rect x="809" y="268" width="3.4" height="6.5" fill="#ff9900" />
<rect x="816" y="268" width="3.4" height="6.5" fill="#ff9900" />
<rect x="823" y="268" width="3.4" height="6.5" fill="#ff9900" />
<rect x="830" y="268" width="3.4" height="6.5" fill="#ff9900" />
<rect x="837" y="268" width="3.4" height="6.5" fill="#ff9900" />
<rect x="844" y="268" width="3.4" height="6.5" fill="#ff9900" />
<rect x="851" y="268" width="3.4" height="6.5" fill="#ff9900" />
<rect x="858" y="268" width="3.4" height="6.5" fill="#ff9900" />
<rect x="865" y="268" width="3.4" height="6.5" fill="#ff9900" />
<rect x="872" y="268" width="3.4" height="6.5" fill="#ff9900" />
<rect x="879" y="268" width="3.4" height="6.5" fill="#ff9900" />
<rect x="886.5" y="268" width="15" height="6.5" fill="#ff9900" />
<path d="M902.5,276.5 L700,276.5 A11,11 0 0 0 700,298.5 L902.5,298.5" stroke="#ffff00" stroke-width="1" fill="none" />
<circle cx="702.5" cy="287" r="8" stroke="#ffff00" stroke-width="1" fill="none" />
<line x1="697.0" y1="283.5" x2="708.0" y2="290.5" stroke="#ffff00" stroke-width="1" />
<line x1="699.5" y1="293" x2="705.5" y2="281" stroke="#ffff00" stroke-width="1" />
<circle cx="755" cy="287" r="8" stroke="#ffff00" stroke-width="1" fill="none" />
<line x1="749.5" y1="283.5" x2="760.5" y2="290.5" stroke="#ffff00" stroke-width="1" />
<line x1="752" y1="293" x2="758" y2="281" stroke="#ffff00" stroke-width="1" />
<circle cx="812" cy="287" r="8" stroke="#ffff00" stroke-width="1" fill="none" />
<line x1="806.5" y1="283.5" x2="817.5" y2="290.5" stroke="#ffff00" stroke-width="1" />
<line x1="809" y1="293" x2="815" y2="281" stroke="#ffff00" stroke-width="1" />
<circle cx="865.5" cy="287" r="8" stroke="#ffff00" stroke-width="1" fill="none" />
<line x1="860.0" y1="283.5" x2="871.0" y2="290.5" stroke="#ffff00" stroke-width="1" />
<line x1="862.5" y1="293" x2="868.5" y2="281" stroke="#ffff00" stroke-width="1" />
<path d="M663,298.5 L697,298.5 L690.5,306 L668.5,306 Z" stroke="#00ff00" stroke-width="1" fill="none" />
<line x1="668.5" y1="306" x2="690.5" y2="306" stroke="#00ff00" stroke-width="2.5" />
<line x1="672" y1="306.5" x2="662.5" y2="322" stroke="#00ff00" stroke-width="1" />
<line x1="686" y1="306.5" x2="662" y2="347" stroke="#00ff00" stroke-width="1" />
<polygon points="674.5,308.85 686.5,308.85 684.5,312.35 672.5,312.35" fill="#ff9900"/>
<polygon points="669,316.15 682,316.15 680,319.65 667,319.65" fill="#ff9900"/>
<polygon points="666,323.05 677.5,323.05 675.5,326.55 664,326.55" fill="#ff9900"/>
<polygon points="665,329.45 674,329.45 672,332.95 663,332.95" fill="#ff9900"/>
<polygon points="665,336.05 670,336.05 668,339.55 663,339.55" fill="#ff9900"/>
<rect x="678.5" y="281.2" width="8" height="2.8" fill="#ff9900" />
<rect x="678.5" y="288.8" width="8" height="2.8" fill="#ff9900" />
<rect x="678.5" y="295.2" width="8" height="2.8" fill="#ff9900" />
<rect x="678.5" y="302.2" width="8" height="2.8" fill="#ff9900" />
<path d="M888.5,303.5 L704,303.5 L690.5,312.5 L690.5,480" stroke="#ffff00" stroke-width="1" fill="none" />
<line x1="888.5" y1="303.5" x2="888.5" y2="480" stroke="#ffff00" stroke-width="1" />
<line x1="690.5" y1="389.5" x2="890" y2="389.5" stroke="#ffff00" stroke-width="1" />
<line x1="690.5" y1="395.5" x2="890" y2="395.5" stroke="#ffff00" stroke-width="1" />
</g>
</svg>
</body>
</html>
